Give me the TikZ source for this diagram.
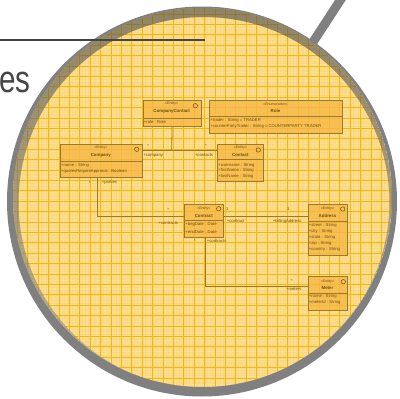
\documentclass[tikz,border=0pt]{standalone}
\usepackage{fontspec}
\setmainfont{Liberation Sans}
\definecolor{ringgray}{HTML}{808080}
\definecolor{paper}{HTML}{FCDE94}
\definecolor{gridline}{HTML}{F3B60A}
\definecolor{boxfill}{HTML}{F6B845}
\definecolor{boxline}{HTML}{9C7A2C}
\definecolor{ink}{HTML}{6E5012}
\definecolor{titlegray}{HTML}{454545}
\definecolor{shade}{HTML}{604000}
\begin{document}
\begin{tikzpicture}[x=1pt,y=-1pt,
  umlbox/.style={draw=boxline, fill=boxfill, fill opacity=0.8, line width=0.7pt,
                 inner sep=0, anchor=north west},
  ster/.style={font=\fontsize{3.6}{4}\selectfont, text=ink, inner sep=0},
  cname/.style={font=\bfseries\fontsize{4.4}{5}\selectfont, text=ink, inner sep=0},
  attr/.style={font=\fontsize{4.2}{5}\selectfont, text=ink, inner sep=0, anchor=west},
  endlabel/.style={font=\fontsize{4.2}{5}\selectfont, text=ink, inner sep=0},
  sepline/.style={draw=boxline, line width=0.6pt},
  assoc/.style={draw=boxline, line width=0.8pt},
  icon/.style={draw=ink, line width=0.5pt, circle, minimum size=4.4pt, inner sep=0},
]
\useasboundingbox (0,0) rectangle (400,399);
\fill[white] (0,0) rectangle (400,399);
\begin{scope}
\clip (0,0) rectangle (400,399);

% page heading fragment
\node[font=\fontsize{38}{38}\selectfont, text=titlegray, anchor=base west, inner sep=0, xscale=0.78] (heading) at (-1,92) {es};

% magnifier handle
\draw[ringgray, line width=9pt] (300,62) -- (345,-7);

% magnifier rim
\fill[ringgray] (202,201.5) circle[radius=195];
\fill[paper] (202.5,197.5) circle[radius=189.5];

% lens content
\begin{scope}
\clip (202.5,197.5) circle[radius=189.5];
% fine texture
\foreach \i in {0,...,150} {
  \draw[gridline, line width=0.35pt, opacity=0.1] (2+2.6*\i,0) -- (2+2.6*\i,399);
  \draw[gridline, line width=0.35pt, opacity=0.1] (0,1.1+2.6*\i) -- (400,1.1+2.6*\i);
}
% major grid
\foreach \i in {0,...,38} {
  \draw[gridline, line width=0.85pt] (7.1+10.4*\i,0) -- (7.1+10.4*\i,399);
  \draw[gridline, line width=0.85pt] (0,3.7+10.4*\i) -- (400,3.7+10.4*\i);
}
% inner shadow of the rim
\fill[shade, opacity=0.38, even odd rule] (202.5,197.5) circle[radius=189.5] (204,202.5) circle[radius=185.5];

% ---- classes ----
% CompanyContact
\node[umlbox, minimum width=58, minimum height=26] (cc) at (142.7,100) {};
\draw[sepline] (142.7,118.3) -- (200.7,118.3);
\node[ster] at (171.7,104) {<<Entity>>};
\node[cname] at (171.7,111.7) {CompanyContact};
\node[attr] at (143.7,122.3) {+role : Role};
\node[icon] at (195.3,105.7) {};

% Role
\node[umlbox, minimum width=132.4, minimum height=32.7] (role) at (209.3,100) {};
\draw[sepline] (209.3,116.7) -- (341.7,116.7);
\node[ster] at (275.5,104.3) {<<Enumeration>>};
\node[cname] at (275.5,110.7) {Role};
\node[attr] at (210.3,120.7) {+trader : String = TRADER};
\node[attr] at (210.3,126.7) {+counterPartyTrader : String = COUNTERPARTY TRADER};

% Contact
\node[umlbox, minimum width=46, minimum height=37] (contact) at (217.3,144.3) {};
\draw[sepline] (217.3,159.5) -- (263.3,159.5);
\node[ster] at (240.3,147.8) {<<Entity>>};
\node[cname] at (240.3,155) {Contact};
\node[attr] at (218.3,165) {+username : String};
\node[attr] at (218.3,170.9) {+firstName : String};
\node[attr] at (218.3,176.7) {+lastName : String};
\node[icon] at (258.3,150) {};

% Company
\node[umlbox, minimum width=81.7, minimum height=32.7] (company) at (60,144) {};
\draw[sepline] (60,161.7) -- (141.7,161.7);
\node[ster] at (100.8,147.6) {<<Entity>>};
\node[cname] at (100.8,155) {Company};
\node[attr] at (61,165.2) {+name : String};
\node[attr] at (61,171.7) {+quotesRequireApproval : Boolean};
\node[icon] at (136.7,149.3) {};

% Contract
\node[umlbox, minimum width=39, minimum height=33.3] (contract) at (184.3,204) {};
\draw[sepline] (184.3,220) -- (223.3,220);
\node[ster] at (203.8,208.3) {<<Entity>>};
\node[cname] at (203.8,215.7) {Contract};
\node[attr] at (185.3,224.3) {+begDate : Date};
\node[attr] at (185.3,231.5) {+endDate : Date};
\node[icon] at (218.7,208.7) {};

% Address
\node[umlbox, minimum width=39.6, minimum height=51] (address) at (307.7,204) {};
\draw[sepline] (307.7,221.7) -- (347.3,221.7);
\node[ster] at (327.5,208.3) {<<Entity>>};
\node[cname] at (327.5,216) {Address};
\node[attr] at (308.7,225.3) {+street : String};
\node[attr] at (308.7,231.3) {+city : String};
\node[attr] at (308.7,237.3) {+state : String};
\node[attr] at (308.7,243.3) {+zip : String};
\node[attr] at (308.7,249.3) {+country : String};
\node[icon] at (342.7,209) {};

% Meter
\node[umlbox, minimum width=39.6, minimum height=34] (meter) at (307.7,276) {};
\draw[sepline] (307.7,293.3) -- (347.3,293.3);
\node[ster] at (327.5,281.7) {<<Entity>>};
\node[cname] at (327.5,288.3) {Meter};
\node[attr] at (308.7,296.8) {+name : String};
\node[attr] at (308.7,302.8) {+meterId : String};
\node[icon] at (343.3,281.7) {};

% ---- associations ----
\coordinate (jcc) at (171.7,150.7);
\draw[assoc] (company.east |- jcc) -- (contact.west |- jcc);
\draw[assoc] (cc.south) -- (jcc);
\node[endlabel] at (148.3,146) {*};
\node[endlabel, anchor=west] at (143.3,155.3) {+company};
\node[endlabel] at (206,146) {*};
\node[endlabel, anchor=east] at (213.3,155.3) {+contacts};

\coordinate (jpc) at (97.7,216);
\draw[assoc] (company.south -| jpc) -- (jpc) -- (contract.west |- jpc);
\node[endlabel] at (90,182.7) {*};
\node[endlabel, anchor=west] at (101.7,182.7) {+parties};
\node[endlabel] at (168.3,210.3) {*};
\node[endlabel, anchor=east] at (178.3,222.7) {+contracts};

\coordinate (jca) at (265,216);
\draw[assoc] (contract.east |- jca) -- (address.west |- jca);
\node[endlabel] at (227.3,209.5) {1};
\node[endlabel, anchor=west] at (226.7,221) {+contract};
\node[endlabel] at (288.3,209.5) {1};
\node[endlabel, anchor=east] at (301.7,221) {+billingAddress};

\coordinate (jcm) at (205,286);
\draw[assoc] (contract.south -| jcm) -- (jcm) -- (meter.west |- jcm);
\node[endlabel] at (195,241) {*};
\node[endlabel, anchor=west] at (206.7,241) {+contracts};
\node[endlabel] at (292,281) {*};
\node[endlabel, anchor=east] at (301.7,289.3) {+meters};
\end{scope}

% heading rule
\draw[titlegray, line width=2pt] (0,40) -- (205,40);
\end{scope}
\end{tikzpicture}
\end{document}
